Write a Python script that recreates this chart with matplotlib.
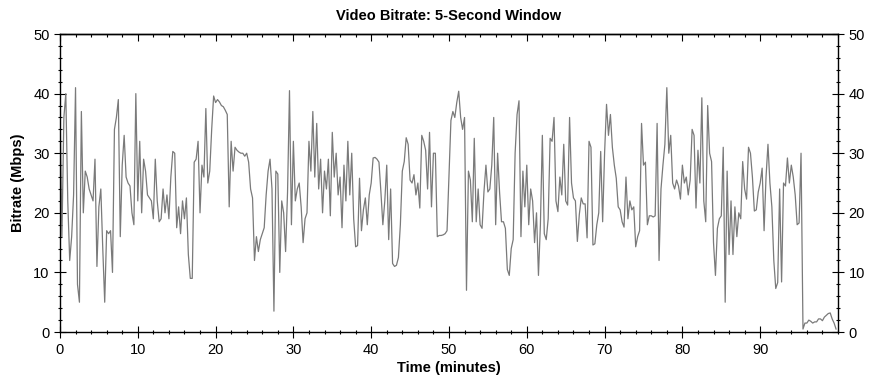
import matplotlib
matplotlib.use("Agg")
import matplotlib.pyplot as plt
from matplotlib.ticker import MultipleLocator
import numpy as np

time_step = 0.25
bitrate = [
    # 0 - 12 min
    38, 16, 36, 40, 22, 12, 16, 23, 41, 8, 5, 37, 20, 27, 26, 24,
    23, 22, 29, 11, 21, 24, 14, 5, 17, 16.5, 17, 10, 34, 36, 39, 16,
    28, 33, 26, 25, 24.5, 20, 18, 40, 22, 32, 20, 29, 27, 23, 22.5, 22,
    19,
    # 12.25 - 24.25 min
    29, 22, 18.5, 19, 24, 20, 23, 19, 26, 30.3, 30, 17.5, 21, 16.5, 22, 19,
    22.5, 13, 9, 9, 28.5, 29, 32, 20, 28, 26, 37.5, 25, 27, 34, 39.6, 38.5,
    39, 38.6, 38, 37.8, 37.2, 36.5, 21, 32, 27, 31, 30.5, 30.2, 30, 30, 29.5, 30,
    28.5,
    # 24.5 - 36.5 min
    24, 22.5, 12, 16, 13.5, 15.5, 16.5, 17.5, 23, 27, 29, 24, 3.5, 27, 26.5, 10,
    22, 20, 13.5, 23.5, 40.5, 18, 32, 22, 24, 25, 21, 15, 19, 20, 32, 27,
    37, 26, 35, 24, 29, 20, 27, 24, 29, 19.5, 33.5, 26, 30, 23, 26, 17.5,
    28,
    # 36.75 - 48.75 min
    22, 32, 23, 30, 19, 14.3, 14.5, 25.8, 17, 20.5, 22.5, 18, 23, 25, 29.2, 29.3,
    29, 28.5, 23.5, 18, 22, 28, 15.5, 24, 11.5, 11, 11.2, 12.5, 18, 27, 28.6, 32.6,
    31.5, 25.5, 25, 26.4, 23, 25, 20.8, 33, 32, 30.5, 24, 33.5, 21, 30, 30, 16,
    16.2,
    # 49 - 60.75 min
    16.2, 16.3, 16.5, 17, 26, 35.5, 37, 36, 38.5, 40.4, 36, 34, 36, 7, 27, 25.5,
    18.5, 32.5, 18.5, 24, 18, 17.4, 23.6, 28, 23.5, 24, 28, 36, 18, 30, 23.5, 18.5,
    18.5, 17.4, 10.5, 9.5, 14, 15.5, 30, 36.5, 38.8, 16, 27, 21, 28, 18, 24, 22,
    # 61 - 72.75 min
    15, 20, 9.5, 18, 33, 16.5, 15.5, 19, 32.5, 32, 36, 22, 20.2, 26, 23, 31.5,
    22, 21.3, 36, 25, 22.5, 22, 15.2, 19.7, 22.5, 21.5, 21.5, 15.8, 32, 31, 14.6, 14.8,
    18, 20, 30.3, 18.5, 30, 38.2, 33, 36.5, 31, 28, 25.8, 21, 20.5, 18.5, 17.6, 26,
    # 73 - 85 min
    19, 22, 20.5, 21, 14.3, 16, 17, 35, 28, 28.5, 18, 19.5, 19.5, 19.3, 19.5, 35,
    12, 24, 28, 31.5, 41, 30, 33, 25, 24, 25.5, 24.5, 22.3, 28, 25, 26, 23,
    25.5, 34, 33, 20.8, 30.5, 25, 39.3, 22, 18.5, 38, 30, 28.6, 15, 9.5, 17.4, 19,
    19.5,
    # 85.25 - 99.75 min
    31, 5, 27, 13, 22, 13, 21, 16, 20, 19, 28.6, 24, 22.3, 31, 30, 26,
    20.3, 20.5, 23.5, 25, 27.5, 17, 26, 31.5, 25, 21, 12, 7.3, 8.3, 24, 8.4, 25,
    24.5, 29.2, 25, 28, 26, 23, 18, 18.3, 30, 0.5, 1.5, 1.5, 2, 1.8, 1.5, 1.7,
    1.7, 2.2, 2.2, 1.9, 2.5, 2.8, 3.1, 3.2, 2.2, 1.5, 0.5,
]
minutes = np.arange(len(bitrate)) * time_step

x_ticks = [0, 10, 20, 30, 40, 50, 60, 70, 80, 90]
y_ticks = [0, 10, 20, 30, 40, 50]

plt.rcParams['font.family'] = ['Liberation Sans', 'DejaVu Sans']

fig = plt.figure(figsize=(8.73, 3.88), dpi=100)
ax = fig.add_axes([0.0687, 0.1443, 0.8912, 0.768])

ax.plot(minutes, bitrate, color="#7a7a7a", linewidth=0.9)

ax.set_xlim(0, 100)
ax.set_ylim(0, 50)
ax.set_xticks(x_ticks)
ax.set_yticks(y_ticks)
ax.xaxis.set_minor_locator(MultipleLocator(2))
ax.yaxis.set_minor_locator(MultipleLocator(2))

ax.tick_params(which="major", direction="inout", length=8, width=0.8,
               labelsize=10.5, right=True, labelright=True)
ax.tick_params(which="minor", direction="inout", length=3.5, width=0.8, right=True)
ax.tick_params(axis="x", which="major", pad=4)

# ticks along the top edge point inward only
top = ax.secondary_xaxis("top")
top.set_xticks(x_ticks)
top.xaxis.set_minor_locator(MultipleLocator(2))
top.tick_params(which="major", direction="in", length=5, width=0.8, labeltop=False)
top.tick_params(which="minor", direction="in", length=2.5, width=0.8)
top.set_xticklabels([])

for s in ax.spines.values():
    s.set_linewidth(1.0)
top.spines["top"].set_linewidth(1.0)

ax.set_title("Video Bitrate: 5-Second Window", fontsize=10.5,
             fontweight="bold", pad=10)
ax.set_xlabel("Time (minutes)", fontsize=10.5, fontweight="bold", labelpad=3)
ax.set_ylabel("Bitrate (Mbps)", fontsize=10.5, fontweight="bold", labelpad=6)

fig.savefig("out.png", dpi=100)
